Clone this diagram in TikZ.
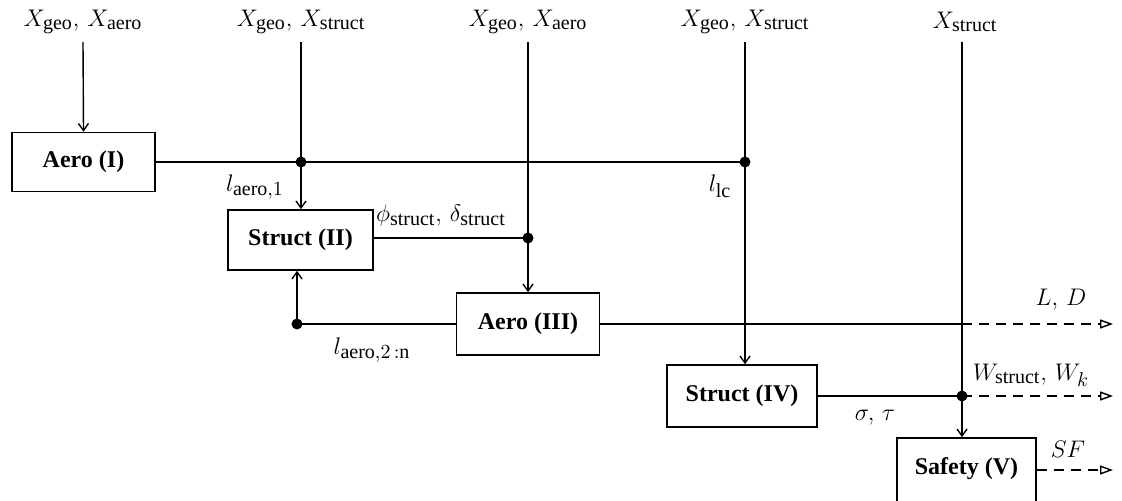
\documentclass[tikz,border=0pt]{standalone}
\usepackage{fontspec}
\setmainfont{Liberation Serif}
\DeclareMathSizes{12.5}{12.5}{10}{8}
\usetikzlibrary{arrows.meta}
\begin{document}
\begin{tikzpicture}[x=0.5pt,y=-0.5pt,
  box/.style={draw, line width=0.8pt, font=\fontsize{12}{14}\selectfont\bfseries, inner sep=0pt, anchor=center},
  lbl/.style={font=\fontsize{12.5}{15}\selectfont, inner sep=1pt},
  flow/.style={line width=0.7pt},
  arr/.style={flow, -{Straight Barb[length=3.5pt,width=5pt]}},
  dout/.style={flow, dash pattern=on 5pt off 3.5pt, -{Triangle[open,length=6.5pt,width=4.5pt]}},
  dot/.style={circle, fill, inner sep=0pt, minimum size=5.5pt}]
\useasboundingbox (0,0) rectangle (1122,501);

% boxes
\node[box, minimum width=71.5pt, minimum height=29.5pt] (a1) at (83.5,162) {Aero (I)};
\node[box, minimum width=72.5pt, minimum height=30pt] (s2) at (300.5,240) {Struct (II)};
\node[box, minimum width=71.5pt, minimum height=31pt] (a3) at (528,324) {Aero (III)};
\node[box, minimum width=75pt, minimum height=31pt] (s4) at (742,396) {Struct (IV)};
\node[box, minimum width=69.5pt, minimum height=38pt, text depth=0pt] (sf) at (966.5,476) {};
\node[font=\fontsize{12}{14}\selectfont\bfseries, inner sep=0pt] (sft) at (966.5,469) {Safety (V)};

% top inputs
\node[lbl] (t1) at (83,22) {$X_{\mathrm{geo}},\,X_{\mathrm{aero}}$};
\node[lbl] (t2) at (301,22) {$X_{\mathrm{geo}},\,X_{\mathrm{struct}}$};
\node[lbl] (t3) at (528,22) {$X_{\mathrm{geo}},\,X_{\mathrm{aero}}$};
\node[lbl] (t4) at (745,22) {$X_{\mathrm{geo}},\,X_{\mathrm{struct}}$};
\node[lbl] (t5) at (965,22) {$X_{\mathrm{struct}}$};
\coordinate (i1) at (83,42);
\coordinate (i2) at (301,42);
\coordinate (i3) at (528,42);
\coordinate (i4) at (745,42);
\coordinate (i5) at (962,42);

% junction dots
\node[dot] (d1) at (301,162) {};
\node[dot] (d2) at (745,162) {};
\node[dot] (d3) at (528,238) {};
\node[dot] (d4) at (297,324) {};
\node[dot] (d5) at (962,396) {};

% outputs
\coordinate (o1) at (1113,324);
\coordinate (o2) at (1113,396);
\coordinate (o3) at (1113,470);

% connectors
\draw[arr] (i1) -- (a1.north);
\draw[flow] (a1.east) -- (d1.center) -- (d2.center);
\draw[flow] (i2) -- (d1.center);
\draw[arr] (d1.center) -- (d1 |- s2.north);
\draw[flow] (i4) -- (d2.center);
\draw[arr] (d2.center) -- (d2 |- s4.north);
\draw[flow] (s2.east |- d3) -- (d3.center);
\draw[flow] (i3) -- (d3.center);
\draw[arr] (d3.center) -- (a3.north);
\draw[flow] (a3.west) -- (d4.center);
\draw[arr] (d4.center) -- (d4 |- s2.south);
\draw[flow] (a3.east) -- (a3.east -| d5);
\draw[dout] (a3.east -| d5) -- (o1);
\draw[flow] (i5) -- (d5.center);
\draw[arr] (d5.center) -- (d5 |- sf.north);
\draw[flow] (s4.east) -- (d5.center);
\draw[dout] (d5.center) -- (o2);
\draw[dout] (sf.east |- o3) -- (o3);

% labels
\node[lbl] (la1) at (255,187) {$l_{\mathrm{aero},1}$};
\node[lbl] (llc) at (720,186) {$l_{\mathrm{lc}}$};
\node[lbl] (lph) at (441,216) {$\phi_{\mathrm{struct}},\,\delta_{\mathrm{struct}}$};
\node[lbl] (la2) at (372,350) {$l_{\mathrm{aero},2\,{:}\mathrm{n}}$};
\node[lbl] (lld) at (1061,300) {$L,\,D$};
\node[lbl] (lw) at (1031,375) {$W_{\mathrm{struct}},\,W_k$};
\node[lbl] (lst) at (875,418) {$\sigma,\,\tau$};
\node[lbl] (lsf) at (1068,449) {$SF$};
\end{tikzpicture}
\end{document}
